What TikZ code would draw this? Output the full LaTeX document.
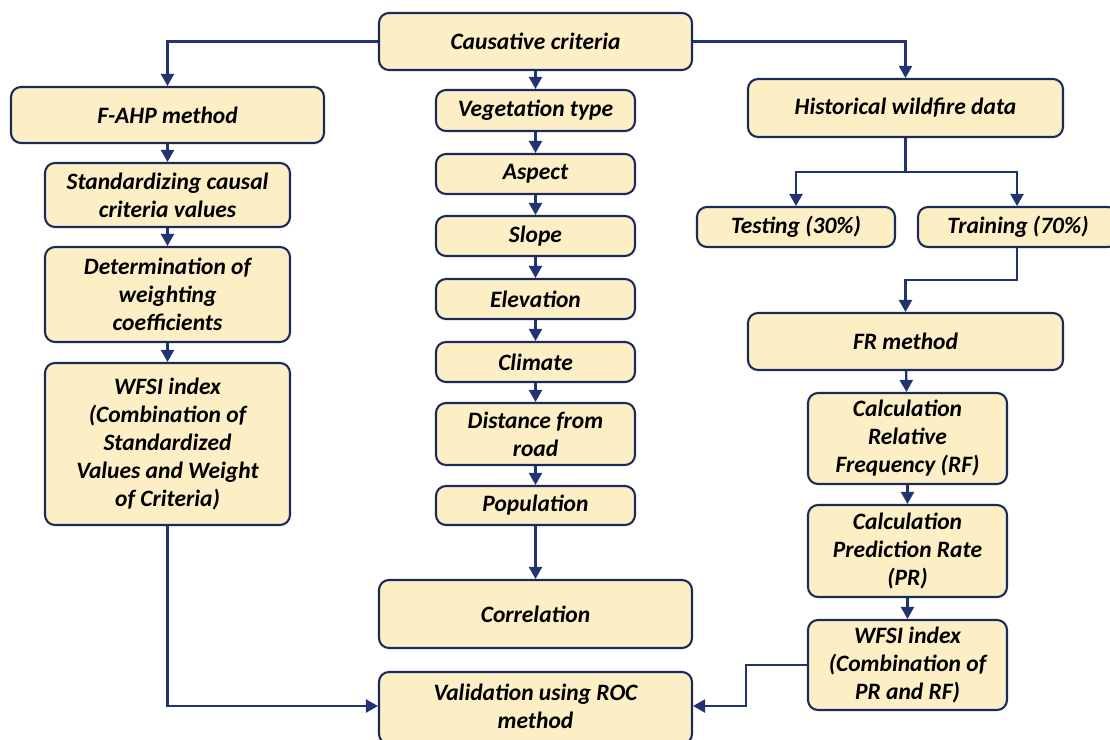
\documentclass[tikz,border=0pt]{standalone}
\usepackage{fontspec}
\setmainfont{Carlito}
\usetikzlibrary{arrows.meta}
\definecolor{boxfill}{HTML}{FCEFC6}
\definecolor{boxline}{HTML}{1B2A5B}
\definecolor{arr}{HTML}{1F3470}
\tikzset{
  boxfont/.style={font=\fontsize{23.5}{28}\selectfont\bfseries\itshape},
  box/.style={draw=boxline, fill=boxfill, line width=2.1pt, rounded corners=10pt,
    align=center, inner sep=0pt, boxfont},
  conn/.style={draw=arr, line width=2.3pt, -{Triangle[length=12pt,width=13pt]}},
  plain/.style={draw=arr, line width=2.3pt},
}
\newcommand{\mkbox}[6]{% name, x1, y1, x2, y2, text
  \node[box, minimum width={#4-#2}, minimum height={#5-#3}] (#1) at ({(#2+#4)/2},{(#3+#5)/2}) {#6};}
\begin{document}
\begin{tikzpicture}[x=1pt,y=-1pt]
\useasboundingbox (0,0) rectangle (1110,739);
\begin{scope}
\clip (0,0) rectangle (1110,739);
\mkbox{cc}{379}{13}{692}{70}{Causative criteria}
\mkbox{fahp}{11}{87}{324}{143}{F-AHP method}
\mkbox{std}{45}{163}{290}{227}{Standardizing causal\\criteria values}
\mkbox{det}{45}{247}{290}{342}{Determination of\\weighting\\coefficients}
\mkbox{wl}{45}{363}{290}{525}{WFSI index\\(Combination of\\Standardized\\Values and Weight\\of Criteria)}
\mkbox{veg}{436}{90}{635}{131}{Vegetation type}
\mkbox{asp}{436}{154}{635}{194}{Aspect}
\mkbox{slo}{436}{216}{635}{256}{Slope}
\mkbox{ele}{436}{279}{635}{319}{Elevation}
\mkbox{cli}{436}{342}{635}{382}{Climate}
\mkbox{dis}{436}{403}{635}{465}{Distance from\\road}
\mkbox{pop}{436}{486}{635}{525}{Population}
\mkbox{cor}{379}{580}{692}{648}{Correlation}
\node[box, minimum width=313pt, minimum height=72pt] (val) at (535.5,708) {};
\node[boxfont, align=center] (valt) at (535.5,706) {Validation using ROC\\method};
\mkbox{his}{748}{79}{1063}{137}{Historical wildfire data}
\mkbox{tes}{697}{207}{895}{247}{Testing (30\%)}
\node[box, minimum width=200pt, minimum height=40pt] (tra) at (1018,227) {};
\node[boxfont] (trat) at (1018,227) {Training (70\%)};
\mkbox{fr}{748}{313}{1063}{370}{FR method}
\mkbox{rf}{808}{393}{1007}{484}{Calculation\\Relative\\Frequency (RF)}
\mkbox{pr}{808}{505}{1007}{597}{Calculation\\Prediction Rate\\(PR)}
\mkbox{wr}{808}{620}{1007}{710}{WFSI index\\(Combination of\\PR and RF)}
\end{scope}
% connectors
\draw[conn] (cc.west) -| (fahp.north);
\draw[conn] (cc.east) -| (his.north);
\draw[conn] (cc.south) -- (veg.north);
\draw[conn] (veg) -- (asp);
\draw[conn] (asp) -- (slo);
\draw[conn] (slo) -- (ele);
\draw[conn] (ele) -- (cli);
\draw[conn] (cli) -- (dis);
\draw[conn] (dis) -- (pop);
\draw[conn] (pop) -- (cor);
\draw[conn] (fahp) -- (std);
\draw[conn] (std) -- (det);
\draw[conn] (det) -- (wl);
\coordinate (split) at (905.5,172);
\coordinate (trx) at (1017,0);
\draw[plain] (his.south) -- (split);
\draw[conn] (split) -| (tes.north);
\draw[conn] (split) -| (trx |- tra.north);
\coordinate (tbend) at (1017,280);
\draw[conn] (trx |- tra.south) -- (tbend) -| (fr.north);
\draw[conn] (fr) -- (rf);
\draw[conn] (rf) -- (pr);
\draw[conn] (pr) -- (wr);
\draw[conn] (wl.south) |- (val.west |- 0,706);
\coordinate (wbend) at (746,665);
\draw[conn] (wr.west) -- (wbend) |- (val.east |- 0,706);
\end{tikzpicture}
\end{document}
